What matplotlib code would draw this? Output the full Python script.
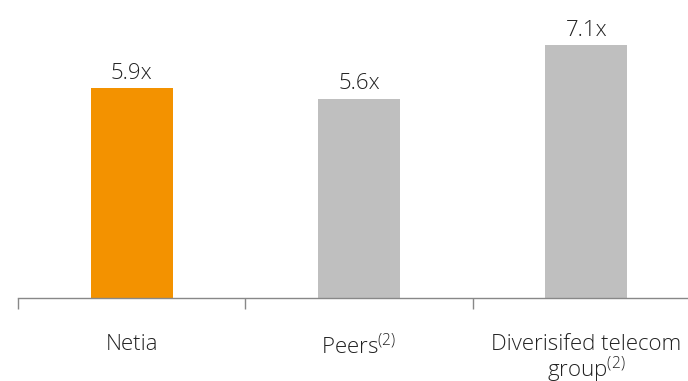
import matplotlib.pyplot as plt
import numpy as np

categories = ['Netia', 'Peers$^{(2)}$', 'Diverisifed telecom\ngroup$^{(2)}$']
values = [5.9, 5.6, 7.1]
value_labels = ['5.9x', '5.6x', '7.1x']
colors = ['#F39200', '#BFBFBF', '#BFBFBF']

plt.rcParams['font.family'] = ['Open Sans', 'DejaVu Sans']
plt.rcParams['font.weight'] = 'light'
plt.rcParams['mathtext.fontset'] = 'custom'
plt.rcParams['mathtext.rm'] = 'Open Sans:light'
plt.rcParams['mathtext.default'] = 'rm'

fig = plt.figure(figsize=(6.88, 3.81), dpi=100)
ax = fig.add_axes([18 / 688, 83 / 381, 682 / 688, 298 / 381])

x = np.arange(len(categories))
ax.bar(x, values, width=0.36, color=colors)

for i, v in enumerate(values):
    ax.text(x[i], v + 0.12, value_labels[i], ha='center', va='bottom',
            fontsize=16, color='#222222')

ax.set_xlim(-0.5, 2.5)
ax.set_ylim(0, 8.37)

for side in ['top', 'right', 'left']:
    ax.spines[side].set_visible(False)
ax.spines['bottom'].set_color('#888888')
ax.spines['bottom'].set_linewidth(1)

ax.set_yticks([])
ax.set_xticks(x)
ax.set_xticklabels(categories, fontsize=16, color='#222222', linespacing=1.0)
ax.tick_params(axis='x', which='major', length=0, pad=26)
ax.set_xticks([-0.5, 0.5, 1.5, 2.5], minor=True)
ax.tick_params(axis='x', which='minor', length=8, color='#888888', width=1)

plt.savefig('out.png', dpi=100)
